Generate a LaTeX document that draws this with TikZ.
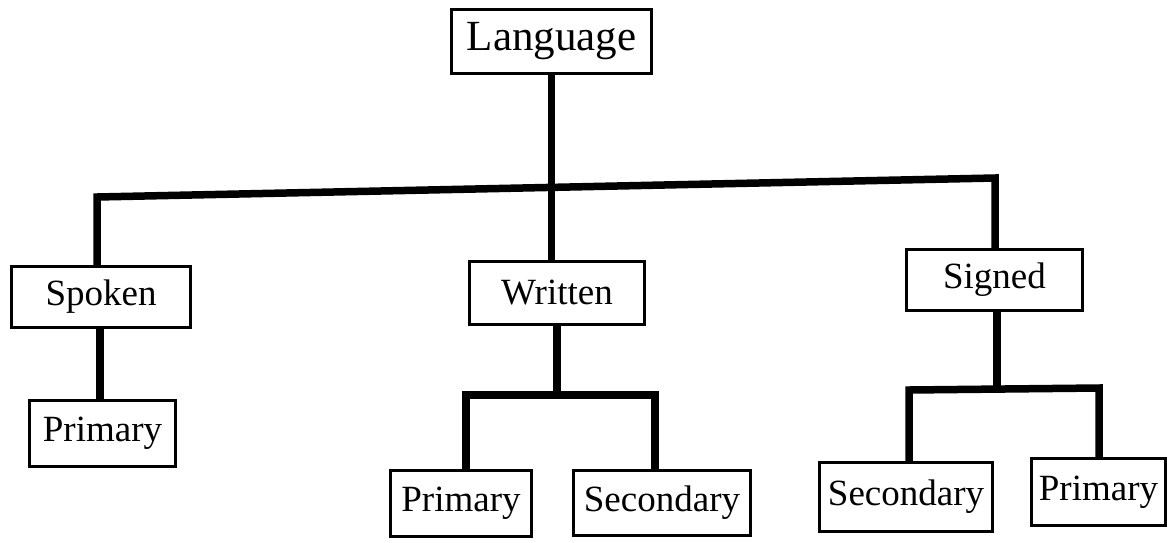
\documentclass[tikz,border=0pt]{standalone}
\usepackage{fontspec}
\setmainfont{Liberation Serif}
\begin{document}
\begin{tikzpicture}[x=1pt,y=-1pt,
  box/.style={draw=black,line width=3.5pt,inner sep=0pt,fill=white,
              font=\fontsize{37}{37}\selectfont},
  bigbox/.style={box,font=\fontsize{43}{43}\selectfont},
  conn/.style={draw=black,line width=7.5pt,line join=miter}]
\useasboundingbox (0,0) rectangle (1172,542);
% nodes
\node[bigbox,minimum width=200pt,minimum height=64pt] (lang) at (551.5,41.5) {Language};
\node[box,minimum width=179pt,minimum height=61pt] (spoken) at (101,297) {Spoken};
\node[box,minimum width=146pt,minimum height=66pt] (prim1) at (102.5,433.5) {Primary};
\node[box,minimum width=175pt,minimum height=63pt] (written) at (557,293) {Written};
\node[box,minimum width=141pt,minimum height=66pt] (prim2) at (461,503.5) {Primary};
\node[box,minimum width=177pt,minimum height=65pt] (sec2) at (662,503) {Secondary};
\node[box,minimum width=176pt,minimum height=61pt] (signed) at (994.5,280) {Signed};
\node[box,minimum width=173pt,minimum height=69pt] (sec3) at (906,497) {Secondary};
\node[box,minimum width=134pt,minimum height=67pt] (prim3) at (1098.5,492) {Primary};
% junction points
\coordinate (bl) at (97,197);
\coordinate (br) at (995,178);
\coordinate (wl) at (466,395);
\coordinate (wr) at (655,395);
\coordinate (sl) at (909,390);
\coordinate (sr) at (1099,388);
% connectors
\draw[conn] (lang.south) -- (lang.south |- written.north);
\draw[conn] (bl |- spoken.north) -- (bl) -- (br) -- (br |- signed.north);
\draw[conn] (spoken.south -| 100,0) -- (prim1.north -| 100,0);
\draw[conn] (written.south) -- (written.south |- wl);
\draw[conn] (wl |- prim2.north) -- (wl) -- (wr) -- (wr |- sec2.north);
\draw[conn] (signed.south -| 997,0) -- (997,389);
\draw[conn] (sl |- sec3.north) -- (sl) -- (sr) -- (sr |- prim3.north);
\end{tikzpicture}
\end{document}
